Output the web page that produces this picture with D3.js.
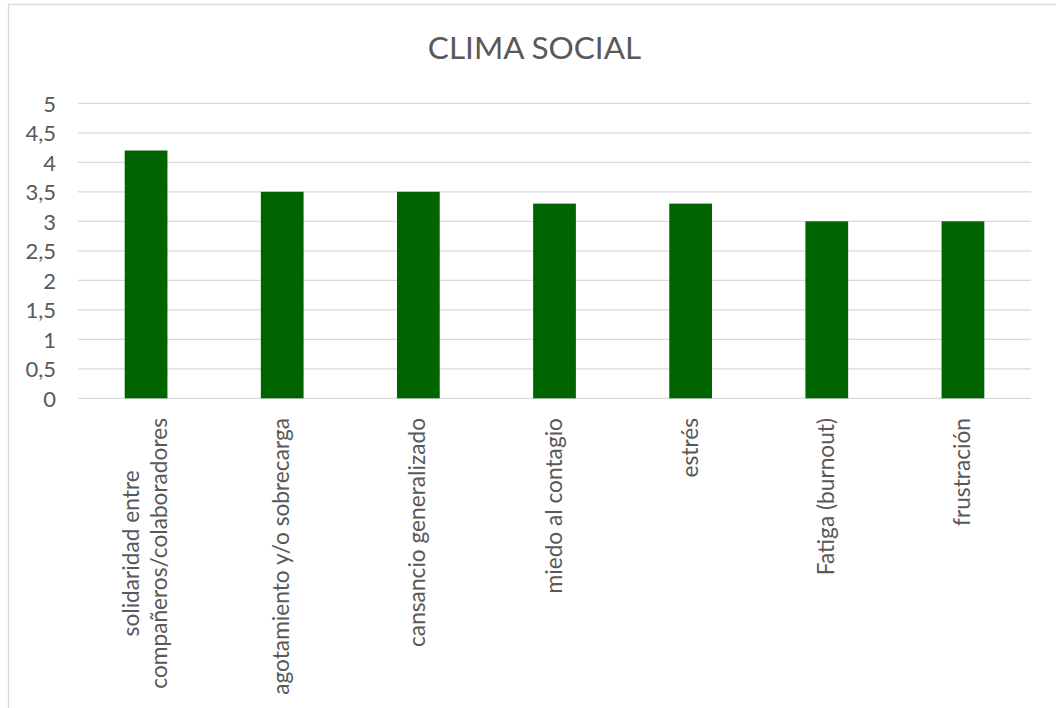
<!DOCTYPE html>
<html>
<head>
<meta charset="utf-8">
<script src="https://cdn.jsdelivr.net/npm/d3@7"></script>
<style>
  html, body { margin: 0; padding: 0; background: #fff; }
  svg { display: block; }
</style>
</head>
<body>
<script>
// ---- data ----
const title = "CLIMA SOCIAL";
const categories = [
  ["solidaridad entre", "compañeros/colaboradores"],
  ["agotamiento y/o sobrecarga"],
  ["cansancio generalizado"],
  ["miedo al contagio"],
  ["estrés"],
  ["Fatiga (burnout)"],
  ["frustración"]
];
const values = [4.2, 3.5, 3.5, 3.3, 3.3, 3.0, 3.0];
const yTicks = [0, 0.5, 1, 1.5, 2, 2.5, 3, 3.5, 4, 4.5, 5];

// ---- layout ----
const W = 1056, H = 708;
const font = "Lato, 'Open Sans', sans-serif";
const textColor = "#595959";
const plot = { left: 78, right: 1031, top: 103.3, bottom: 398.3 };

const svg = d3.select("body").append("svg").attr("width", W).attr("height", H);
svg.append("rect").attr("width", W).attr("height", H).attr("fill", "#fff");

// chart border
svg.append("rect")
  .attr("x", 8.5).attr("y", 4.5)
  .attr("width", W + 20).attr("height", H + 20)
  .attr("fill", "none").attr("stroke", "#d9d9d9").attr("stroke-width", 1.3);

const x = d3.scaleBand()
  .domain(d3.range(categories.length))
  .range([plot.left, plot.right])
  .paddingInner(0.686).paddingOuter(0.343);

const y = d3.scaleLinear().domain([0, 5]).range([plot.bottom, plot.top]);

// grid lines
svg.append("g").selectAll("line").data(yTicks).join("line")
  .attr("x1", plot.left).attr("x2", plot.right)
  .attr("y1", d => y(d)).attr("y2", d => y(d))
  .attr("stroke", "#d9d9d9").attr("stroke-width", 1.3);

// y axis labels
const fmt = d => String(d).replace(".", ",");
const yAxis = d3.axisLeft(y).tickValues(yTicks).tickFormat(fmt).tickSize(0).tickPadding(0);
const gy = svg.append("g").attr("transform", `translate(56,0)`).call(yAxis);
gy.select(".domain").remove();
gy.selectAll("text")
  .attr("fill", textColor)
  .style("font-family", font)
  .style("font-size", "22px")
  .attr("dy", "0.36em");

// bars
svg.append("g").selectAll("rect").data(values).join("rect")
  .attr("x", (d, i) => x(i))
  .attr("width", x.bandwidth())
  .attr("y", d => y(d))
  .attr("height", d => y(0) - y(d))
  .attr("fill", "#006400");

// category labels (rotated)
const lineH = 27.5;
const labelTop = 418;
categories.forEach((lines, i) => {
  const cx = x(i) + x.bandwidth() / 2;
  const g = svg.append("g").attr("transform", `translate(${cx},${labelTop}) rotate(-90)`);
  const n = lines.length;
  const t = g.append("text")
    .attr("fill", textColor)
    .style("font-family", font)
    .style("font-size", "22.7px");
  lines.forEach((ln, k) => {
    t.append("tspan").attr("x", 0).attr("y", (k - (n - 1) / 2) * lineH + 7).text(ln);
  });
  // right-align to top, lines centered to each other
  const widths = t.selectAll("tspan").nodes().map(nd => nd.getComputedTextLength());
  const maxW = d3.max(widths);
  t.attr("text-anchor", "middle");
  t.selectAll("tspan").attr("x", -maxW / 2);
});

// title
svg.append("text")
  .attr("x", 534.5).attr("y", 59)
  .attr("text-anchor", "middle")
  .attr("fill", textColor)
  .style("font-family", font)
  .style("font-size", "31.5px")
  .text(title);
</script>
</body>
</html>
